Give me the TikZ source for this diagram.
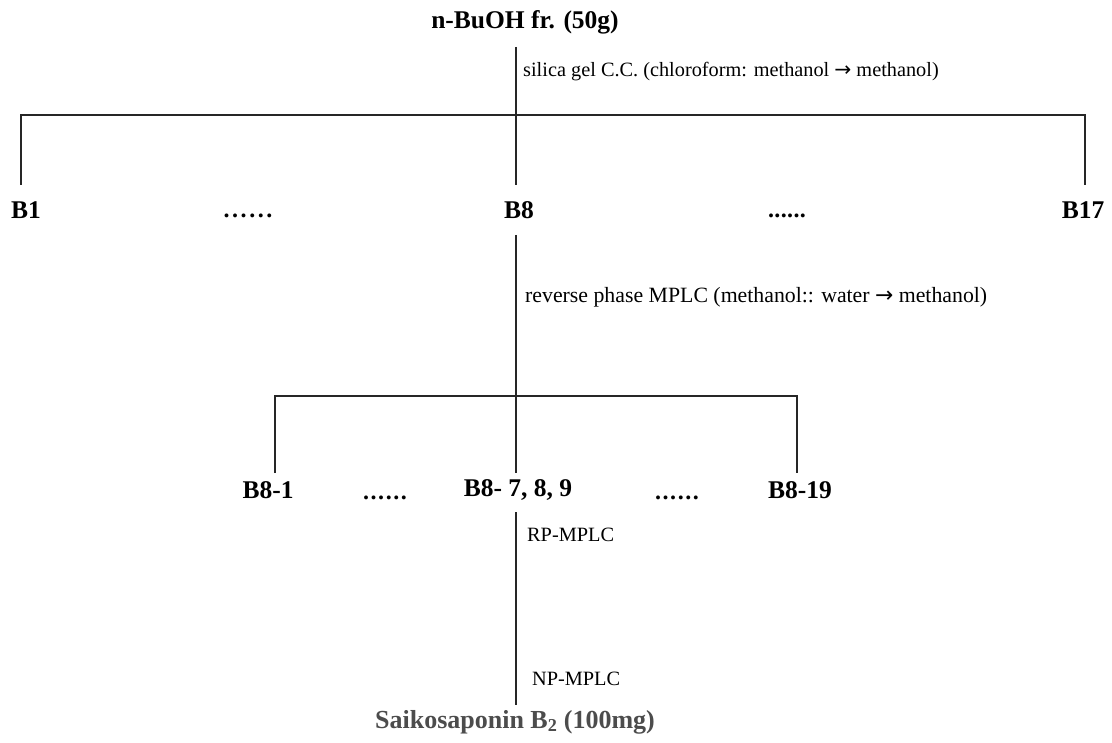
\documentclass[tikz,border=0pt]{standalone}
\usepackage{fontspec}
\setmainfont{Liberation Serif}
\newfontfamily\arrowfont{DejaVu Sans}
\newcommand{\rarr}{{\arrowfont\char"2192}}
\newcommand{\dotrow}[1]{.\kern#1.\kern#1.\kern#1.\kern#1.\kern#1.}
\begin{document}
\begin{tikzpicture}[x=1pt,y=-1pt,
  conn/.style={line width=1.3pt, black!85},
  bold/.style={inner sep=0pt, font=\fontsize{25.5}{29}\selectfont\bfseries},
  note/.style={inner sep=0pt, anchor=west, font=\fontsize{20.3}{24}\selectfont},
  dotsn/.style={inner sep=0pt, anchor=base, font=\fontsize{24}{28}\selectfont\bfseries}]
\useasboundingbox (0,0) rectangle (1112,743);
% nodes
\node[bold] (title) at (525,22) {n-BuOH fr. (50g)};
\node[bold] (b1) at (26,210) {B1};
\node[dotsn] (d1) at (248,218) {\dotrow{2.6pt}};
\node[bold] (b8) at (519,210) {B8};
\node[dotsn] (d2) at (787,218) {\dotrow{0.4pt}};
\node[bold] (b17) at (1083,210) {B17};
\node[note] (l1) at (523,72) {silica gel C.C. (chloroform: methanol \rarr{} methanol)};
\node[note, font=\fontsize{21.8}{26}\selectfont] (l2) at (525,297) {reverse phase MPLC (methanol:: water \rarr{} methanol)};
\node[bold] (c1) at (268,490) {B8-1};
\node[dotsn] (d3) at (385,499) {\dotrow{1.6pt}};
\node[bold] (c8) at (518,490) {B8- 7, 8, 9};
\node[dotsn] (d4) at (677,499) {\dotrow{1.6pt}};
\node[bold] (c19) at (800,490) {B8-19};
\node[note] (l3) at (527,535) {RP-MPLC};
\node[note] (l4) at (532,679) {NP-MPLC};
\node[bold, font=\fontsize{26}{30}\selectfont\bfseries, text=black!70] (final) at (515,722) {Saikosaponin B\textsubscript{2} (100mg)};
% coordinates
\coordinate (t0) at (516,47);
\coordinate (h1l) at (21,115);
\coordinate (h1r) at (1085,115);
\coordinate (b1t) at (21,185);
\coordinate (b8t) at (516,185);
\coordinate (b17t) at (1085,185);
\coordinate (b8b) at (516,235);
\coordinate (h2l) at (275,396);
\coordinate (h2r) at (797,396);
\coordinate (c1t) at (275,473);
\coordinate (c8t) at (516,473);
\coordinate (c19t) at (797,473);
\coordinate (c8b) at (516,512);
\coordinate (ft) at (516,705);
% connectors
\draw[conn] (t0) -- (b8t);
\draw[conn] (b1t) -- (h1l) -- (h1r) -- (b17t);
\draw[conn] (b8b) -- (c8t);
\draw[conn] (c1t) -- (h2l) -- (h2r) -- (c19t);
\draw[conn] (c8b) -- (ft);
\end{tikzpicture}
\end{document}
